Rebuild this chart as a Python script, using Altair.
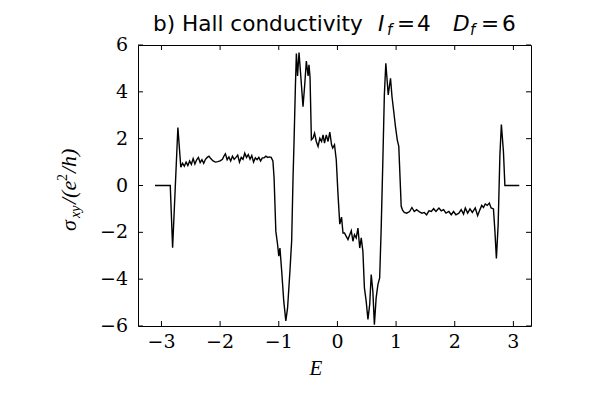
import altair as alt
import pandas as pd

# Hall conductivity curve
E = [-3.11, -2.85, -2.81, -2.72, -2.67,
     -2.64, -2.61, -2.58, -2.55, -2.52, -2.49, -2.46, -2.43, -2.40, -2.37,
     -2.34, -2.31, -2.28, -2.25, -2.22, -2.19, -2.16, -2.12, -2.08, -2.04,
     -2.00, -1.96, -1.93, -1.91, -1.88, -1.85, -1.82, -1.79, -1.76, -1.73,
     -1.70, -1.67, -1.64, -1.61, -1.58, -1.55, -1.52, -1.49, -1.46, -1.43,
     -1.40, -1.37, -1.34, -1.31, -1.28, -1.25, -1.22, -1.19, -1.16, -1.13,
     -1.10, -1.08, -1.05, -1.02, -1.00, -0.98, -0.95, -0.915, -0.88, -0.85,
     -0.81, -0.78, -0.757, -0.74, -0.716, -0.70, -0.68, -0.655, -0.626, -0.587,
     -0.558, -0.53, -0.50, -0.485, -0.467, -0.444, -0.417, -0.39, -0.36, -0.33,
     -0.30, -0.27, -0.245, -0.22, -0.19, -0.16, -0.13, -0.10, -0.08, -0.05,
     -0.02, 0.01, 0.04, 0.07, 0.095, 0.12, 0.15, 0.18, 0.21, 0.236,
     0.264, 0.29, 0.32, 0.35, 0.38, 0.406, 0.434, 0.46, 0.49, 0.52,
     0.55, 0.576, 0.604, 0.63, 0.66, 0.69, 0.72, 0.746, 0.774, 0.80,
     0.825, 0.866, 0.905, 0.93, 0.96, 0.99, 1.02, 1.046, 1.087, 1.11,
     1.14, 1.18, 1.23, 1.27, 1.31, 1.35, 1.40, 1.44, 1.48, 1.52,
     1.56, 1.60, 1.64, 1.68, 1.73, 1.77, 1.81, 1.85, 1.90, 1.94,
     1.98, 2.02, 2.07, 2.11, 2.15, 2.18, 2.22, 2.26, 2.30, 2.35,
     2.39, 2.43, 2.46, 2.49, 2.52, 2.555, 2.59, 2.62, 2.66, 2.685,
     2.71, 2.74, 2.77, 2.795, 2.83, 2.855, 3.10]
sigma = [0.0, 0.0, -2.66, 2.48, 0.78,
         0.95, 0.82, 1.00, 0.85, 1.05, 0.90, 1.15, 0.92, 1.10, 1.20,
         0.98, 1.10, 0.95, 1.12, 1.20, 1.25, 1.15, 1.05, 1.00, 1.02,
         1.05, 1.12, 1.28, 1.35, 1.10, 1.22, 1.05, 1.25, 1.12, 1.20,
         1.30, 1.00, 1.20, 1.12, 1.38, 1.20, 1.32, 1.12, 1.28, 1.00,
         1.18, 1.10, 1.20, 1.05, 1.18, 1.18, 1.25, 1.20, 1.22, 1.20,
         1.05, 0.32, -1.96, -2.53, -3.02, -2.67, -3.66, -4.94, -5.78, -5.23,
         -3.66, -2.35, 0.32, 1.85, 4.29, 5.64, 4.68, 5.68, 4.72, 3.37,
         4.29, 5.31, 4.68, 5.15, 4.62, 1.95, 2.02, 2.23, 1.88, 1.67,
         2.02, 1.88, 2.16, 1.81, 2.16, 1.88, 2.28, 1.74, 1.60, 1.74,
         1.10, -0.39, -1.65, -1.35, -2.03, -2.03, -2.17, -2.31, -2.10, -1.93,
         -2.38, -2.10, -2.24, -1.82, -2.67, -2.24, -2.81, -4.37, -4.94, -5.72,
         -5.08, -3.80, -4.52, -5.94, -4.80, -4.23, -3.95, -1.82, 1.03, 3.87,
         5.22, 3.87, 4.58, 3.80, 3.16, 2.50, 1.95, 1.67, -0.89, -1.05,
         -1.15, -1.18, -1.11, -0.94, -1.11, -1.03, -1.13, -1.18, -1.15, -1.25,
         -1.08, -1.11, -0.99, -1.11, -0.96, -1.08, -1.03, -1.18, -1.11, -1.25,
         -1.11, -1.25, -1.18, -1.03, -1.22, -0.96, -1.18, -1.00, -1.15, -0.96,
         -1.29, -1.03, -0.85, -0.94, -0.79, -0.85, -0.75, -0.96, -1.00, -1.96,
         -3.12, -1.67, 1.31, 2.60, 1.45, 0.0, 0.0]

x_ticks = [-3, -2, -1, 0, 1, 2, 3]
x_labels = ["\u22123", "\u22122", "\u22121", "0", "1", "2", "3"]
y_ticks = [-6, -4, -2, 0, 2, 4, 6]
y_labels = ["\u22126", "\u22124", "\u22122", "0", "2", "4", "6"]

W, H = 393, 281
TICK = 5

df = pd.DataFrame({"E": E, "sigma": sigma})
xt = pd.DataFrame({"t": x_ticks, "lab": x_labels})
yt = pd.DataFrame({"t": y_ticks, "lab": y_labels})

xs = alt.Scale(domain=[-3.4, 3.3], nice=False, zero=False)
ys = alt.Scale(domain=[-6, 6], nice=False, zero=False)

line = alt.Chart(df).mark_line(color="black", strokeWidth=1.4, clip=True).encode(
    x=alt.X("E:Q", scale=xs, axis=None),
    y=alt.Y("sigma:Q", scale=ys, axis=None),
)

tick_bottom = alt.Chart(xt).mark_rule(color="black", strokeWidth=1).encode(
    x=alt.X("t:Q", scale=xs, axis=None), y=alt.value(H), y2=alt.value(H - TICK))
tick_top = alt.Chart(xt).mark_rule(color="black", strokeWidth=1).encode(
    x=alt.X("t:Q", scale=xs, axis=None), y=alt.value(0), y2=alt.value(TICK))
tick_left = alt.Chart(yt).mark_rule(color="black", strokeWidth=1).encode(
    y=alt.Y("t:Q", scale=ys, axis=None), x=alt.value(0), x2=alt.value(TICK))
tick_right = alt.Chart(yt).mark_rule(color="black", strokeWidth=1).encode(
    y=alt.Y("t:Q", scale=ys, axis=None), x=alt.value(W), x2=alt.value(W - TICK))

xlab = alt.Chart(xt).mark_text(
    font="DejaVu Serif", fontSize=19, color="black", align="center", baseline="alphabetic"
).encode(x=alt.X("t:Q", scale=xs, axis=None), y=alt.value(H + 22), text="lab:N")
ylab = alt.Chart(yt).mark_text(
    font="DejaVu Serif", fontSize=19, color="black", align="right", baseline="middle"
).encode(y=alt.Y("t:Q", scale=ys, axis=None), x=alt.value(-10), text="lab:N")

one = alt.Data(values=[{}])


def txt(s, x, y, size=21.6, font="DejaVu Sans", style="normal", angle=0, align="left"):
    kw = dict(text=s, font=font, fontSize=size, fontStyle=style, color="black",
              align=align, baseline="alphabetic")
    if angle:
        kw["angle"] = angle
    return alt.Chart(one).mark_text(**kw).encode(x=alt.value(x), y=alt.value(y))


title_parts = [
    txt("b) Hall conductivity", 15, -14),
    txt("I", 240, -14, style="italic"),
    txt("f", 249, -10, size=15, style="italic"),
    txt("=", 259, -14),
    txt("4", 279, -14),
    txt("D", 315, -14, style="italic"),
    txt("f", 332, -10, size=15, style="italic"),
    txt("=", 343, -14),
    txt("6", 364, -14),
]

SER = "Liberation Serif"
ylabel_parts = [
    txt("σ", -62, 186, size=22, font=SER, style="italic", angle=270),
    txt("xy", -58, 173, size=14, font=SER, style="italic", angle=270),
    txt("/(e", -62, 159, size=22, font=SER, style="italic", angle=270),
    txt("2", -71, 136, size=14, font=SER, angle=270),
    txt("/h)", -62, 128, size=22, font=SER, style="italic", angle=270),
]

xlabel = txt("E", 178, 330, size=21, font=SER, style="italic", align="center")

chart = alt.layer(
    line, tick_bottom, tick_top, tick_left, tick_right, xlab, ylab,
    *title_parts, *ylabel_parts, xlabel
).properties(
    width=W, height=H,
    autosize=alt.AutoSizeParams(type="none"),
    padding={"left": 130, "top": 37, "right": 61, "bottom": 66},
    background="white",
).configure_view(stroke="black", strokeWidth=1)

chart.save("out.html", embed_options={"renderer": "svg", "actions": False})
